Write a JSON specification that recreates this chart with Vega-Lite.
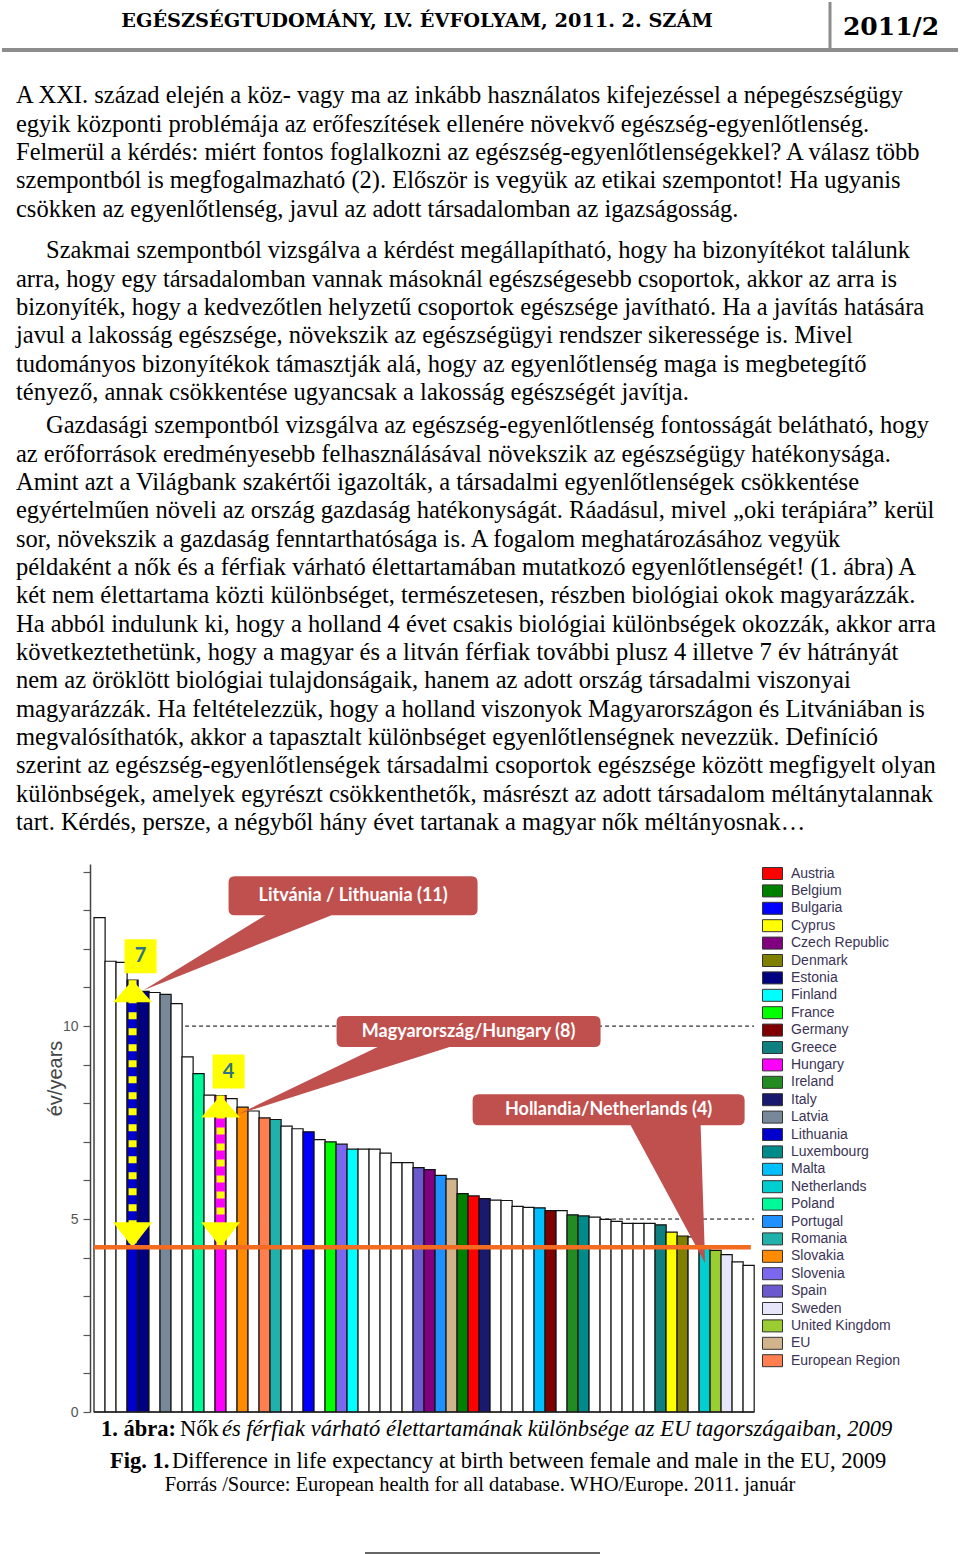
{
 "$schema": "https://vega.github.io/schema/vega-lite/v6.json",
 "background": "white",
 "padding": 0,
 "spacing": 0,
 "bounds": "flush",
 "config": {"view": {"stroke": null}, "concat": {"spacing": 0}},
 "datasets": {
  "bars": [
   {"rank": 1, "country": "Other", "value": 12.81},
   {"rank": 2, "country": "Other", "value": 11.68},
   {"rank": 3, "country": "Other", "value": 11.65},
   {"rank": 4, "country": "Lithuania", "value": 11.19},
   {"rank": 5, "country": "Estonia", "value": 10.9},
   {"rank": 6, "country": "Other", "value": 10.87},
   {"rank": 7, "country": "Latvia", "value": 10.82},
   {"rank": 8, "country": "Other", "value": 10.58},
   {"rank": 9, "country": "Other", "value": 9.2},
   {"rank": 10, "country": "Poland", "value": 8.77},
   {"rank": 11, "country": "Other", "value": 8.21},
   {"rank": 12, "country": "Hungary", "value": 8.2},
   {"rank": 13, "country": "Other", "value": 8.12},
   {"rank": 14, "country": "Slovakia", "value": 7.9},
   {"rank": 15, "country": "Other", "value": 7.8},
   {"rank": 16, "country": "European Region", "value": 7.62},
   {"rank": 17, "country": "Romania", "value": 7.58},
   {"rank": 18, "country": "Other", "value": 7.41},
   {"rank": 19, "country": "Other", "value": 7.34},
   {"rank": 20, "country": "Bulgaria", "value": 7.26},
   {"rank": 21, "country": "Other", "value": 7.06},
   {"rank": 22, "country": "France", "value": 7.0},
   {"rank": 23, "country": "Slovenia", "value": 6.94},
   {"rank": 24, "country": "Finland", "value": 6.81},
   {"rank": 25, "country": "Other", "value": 6.81},
   {"rank": 26, "country": "Other", "value": 6.81},
   {"rank": 27, "country": "Other", "value": 6.71},
   {"rank": 28, "country": "Other", "value": 6.46},
   {"rank": 29, "country": "Other", "value": 6.46},
   {"rank": 30, "country": "Spain", "value": 6.33},
   {"rank": 31, "country": "Czech Republic", "value": 6.28},
   {"rank": 32, "country": "Portugal", "value": 6.13},
   {"rank": 33, "country": "EU", "value": 6.04},
   {"rank": 34, "country": "Belgium", "value": 5.66},
   {"rank": 35, "country": "Austria", "value": 5.6},
   {"rank": 36, "country": "Italy", "value": 5.53},
   {"rank": 37, "country": "Other", "value": 5.49},
   {"rank": 38, "country": "Other", "value": 5.48},
   {"rank": 39, "country": "Other", "value": 5.33},
   {"rank": 40, "country": "Other", "value": 5.3},
   {"rank": 41, "country": "Malta", "value": 5.29},
   {"rank": 42, "country": "Germany", "value": 5.22},
   {"rank": 43, "country": "Other", "value": 5.22},
   {"rank": 44, "country": "Ireland", "value": 5.11},
   {"rank": 45, "country": "Luxembourg", "value": 5.08},
   {"rank": 46, "country": "Other", "value": 5.05},
   {"rank": 47, "country": "Other", "value": 4.99},
   {"rank": 48, "country": "Other", "value": 4.94},
   {"rank": 49, "country": "Other", "value": 4.89},
   {"rank": 50, "country": "Other", "value": 4.89},
   {"rank": 51, "country": "Other", "value": 4.89},
   {"rank": 52, "country": "Greece", "value": 4.85},
   {"rank": 53, "country": "Cyprus", "value": 4.66},
   {"rank": 54, "country": "Denmark", "value": 4.56},
   {"rank": 55, "country": "Other", "value": 4.54},
   {"rank": 56, "country": "Netherlands", "value": 4.27},
   {"rank": 57, "country": "United Kingdom", "value": 4.19},
   {"rank": 58, "country": "Sweden", "value": 4.08},
   {"rank": 59, "country": "Other", "value": 3.89},
   {"rank": 60, "country": "Other", "value": 3.8}
  ],
  "gridlines": [{"level": 5}, {"level": 10}],
  "arrows": [
   {"country": "Lithuania", "rank": 4, "top": 11.19, "base": 4.27, "diff": "7"},
   {"country": "Hungary", "rank": 12, "top": 8.2, "base": 4.27, "diff": "4"}
  ],
  "callouts": [
   {"target": "Lithuania", "rank": 4, "value": 11.19, "label": "Litvánia / Lithuania (11)"},
   {"target": "Hungary", "rank": 12, "value": 8.2, "label": "Magyarország/Hungary (8)"},
   {"target": "Netherlands", "rank": 56, "value": 4.27, "label": "Hollandia/Netherlands (4)"}
  ],
  "p1": [
   {"line": 1, "text": "A XXI. század elején a köz- vagy ma az inkább használatos kifejezéssel a népegészségügy"},
   {"line": 2, "text": "egyik központi problémája az erőfeszítések ellenére növekvő egészség-egyenlőtlenség."},
   {"line": 3, "text": "Felmerül a kérdés: miért fontos foglalkozni az egészség-egyenlőtlenségekkel? A válasz több"},
   {"line": 4, "text": "szempontból is megfogalmazható (2). Először is vegyük az etikai szempontot! Ha ugyanis"},
   {"line": 5, "text": "csökken az egyenlőtlenség, javul az adott társadalomban az igazságosság."}
  ],
  "p2": [
   {"line": 1, "text": "Szakmai szempontból vizsgálva a kérdést megállapítható, hogy ha bizonyítékot találunk"},
   {"line": 2, "text": "arra, hogy egy társadalomban vannak másoknál egészségesebb csoportok, akkor az arra is"},
   {"line": 3, "text": "bizonyíték, hogy a kedvezőtlen helyzetű csoportok egészsége javítható. Ha a javítás hatására"},
   {"line": 4, "text": "javul a lakosság egészsége, növekszik az egészségügyi rendszer sikeressége is. Mivel"},
   {"line": 5, "text": "tudományos bizonyítékok támasztják alá, hogy az egyenlőtlenség maga is megbetegítő"},
   {"line": 6, "text": "tényező, annak csökkentése ugyancsak a lakosság egészségét javítja."}
  ],
  "p3": [
   {"line": 1, "text": "Gazdasági szempontból vizsgálva az egészség-egyenlőtlenség fontosságát belátható, hogy"},
   {"line": 2, "text": "az erőforrások eredményesebb felhasználásával növekszik az egészségügy hatékonysága."},
   {"line": 3, "text": "Amint azt a Világbank szakértői igazolták, a társadalmi egyenlőtlenségek csökkentése"},
   {"line": 4, "text": "egyértelműen növeli az ország gazdaság hatékonyságát. Ráadásul, mivel „oki terápiára” kerül"},
   {"line": 5, "text": "sor, növekszik a gazdaság fenntarthatósága is. A fogalom meghatározásához vegyük"},
   {"line": 6, "text": "példaként a nők és a férfiak várható élettartamában mutatkozó egyenlőtlenségét! (1. ábra) A"},
   {"line": 7, "text": "két nem élettartama közti különbséget, természetesen, részben biológiai okok magyarázzák."},
   {"line": 8, "text": "Ha abból indulunk ki, hogy a holland 4 évet csakis biológiai különbségek okozzák, akkor arra"},
   {"line": 9, "text": "következtethetünk, hogy a magyar és a litván férfiak további plusz 4 illetve 7 év hátrányát"},
   {"line": 10, "text": "nem az öröklött biológiai tulajdonságaik, hanem az adott ország társadalmi viszonyai"},
   {"line": 11, "text": "magyarázzák. Ha feltételezzük, hogy a holland viszonyok Magyarországon és Litvániában is"},
   {"line": 12, "text": "megvalósíthatók, akkor a tapasztalt különbséget egyenlőtlenségnek nevezzük. Definíció"},
   {"line": 13, "text": "szerint az egészség-egyenlőtlenségek társadalmi csoportok egészsége között megfigyelt olyan"},
   {"line": 14, "text": "különbségek, amelyek egyrészt csökkenthetők, másrészt az adott társadalom méltánytalannak"},
   {"line": 15, "text": "tart. Kérdés, persze, a négyből hány évet tartanak a magyar nők méltányosnak…"}
  ]
 },
 "vconcat": [
  {
   "width": 960, "height": 81.83,
   "layer": [
    {"data": {"values": [{"text": "EGÉSZSÉGTUDOMÁNY, LV. ÉVFOLYAM, 2011. 2. SZÁM"}]},
     "mark": {"type": "text", "align": "center", "baseline": "middle", "font": "DejaVu Serif", "fontWeight": "bold", "fontSize": 19.3},
     "encoding": {"x": {"value": 417}, "y": {"value": 21}, "text": {"field": "text"}}},
    {"data": {"values": [{"text": "2011/2"}]},
     "mark": {"type": "text", "align": "center", "baseline": "middle", "font": "DejaVu Serif", "fontWeight": "bold", "fontSize": 25},
     "encoding": {"x": {"value": 891}, "y": {"value": 27}, "text": {"field": "text"}}},
    {"data": {"values": [{}]},
     "mark": {"type": "rule", "color": "#8c8c8c", "strokeWidth": 3},
     "encoding": {"x": {"value": 830}, "y": {"value": 2}, "y2": {"value": 48}}},
    {"data": {"values": [{}]},
     "mark": {"type": "rule", "color": "#8c8c8c", "strokeWidth": 4},
     "encoding": {"x": {"value": 2}, "x2": {"value": 958}, "y": {"value": 50}}}
   ]
  },
  {
   "width": 960, "height": 141.67,
   "data": {"name": "p1"},
   "mark": {"type": "text", "align": "left", "baseline": "middle", "font": "Liberation Serif", "fontSize": 24.5, "color": "#000"},
   "encoding": {
    "x": {"value": 16},
    "y": {"field": "line", "type": "ordinal", "scale": {"type": "point", "padding": 0.5}, "axis": null},
    "text": {"field": "text"}
   }
  },
  {"width": 960, "height": 12.33, "data": {"values": []}, "mark": "text"},
  {
   "width": 960, "height": 170,
   "data": {"name": "p2"},
   "layer": [
    {"transform": [{"filter": "datum.line == 1"}],
     "mark": {"type": "text", "align": "left", "baseline": "middle", "font": "Liberation Serif", "fontSize": 24.5, "color": "#000"},
     "encoding": {"x": {"value": 46}, "y": {"field": "line", "type": "ordinal", "scale": {"type": "point", "padding": 0.5, "domain": [1, 2, 3, 4, 5, 6]}, "axis": null}, "text": {"field": "text"}}},
    {"transform": [{"filter": "datum.line > 1"}],
     "mark": {"type": "text", "align": "left", "baseline": "middle", "font": "Liberation Serif", "fontSize": 24.5, "color": "#000"},
     "encoding": {"x": {"value": 16}, "y": {"field": "line", "type": "ordinal", "scale": {"type": "point", "padding": 0.5, "domain": [1, 2, 3, 4, 5, 6]}, "axis": null}, "text": {"field": "text"}}}
   ]
  },
  {"width": 960, "height": 5, "data": {"values": []}, "mark": "text"},
  {
   "width": 960, "height": 425,
   "data": {"name": "p3"},
   "layer": [
    {"transform": [{"filter": "datum.line == 1"}],
     "mark": {"type": "text", "align": "left", "baseline": "middle", "font": "Liberation Serif", "fontSize": 24.5, "color": "#000"},
     "encoding": {"x": {"value": 46}, "y": {"field": "line", "type": "ordinal", "scale": {"type": "point", "padding": 0.5, "domain": [1, 2, 3, 4, 5, 6, 7, 8, 9, 10, 11, 12, 13, 14, 15]}, "axis": null}, "text": {"field": "text"}}},
    {"transform": [{"filter": "datum.line > 1"}],
     "mark": {"type": "text", "align": "left", "baseline": "middle", "font": "Liberation Serif", "fontSize": 24.5, "color": "#000"},
     "encoding": {"x": {"value": 16}, "y": {"field": "line", "type": "ordinal", "scale": {"type": "point", "padding": 0.5, "domain": [1, 2, 3, 4, 5, 6, 7, 8, 9, 10, 11, 12, 13, 14, 15]}, "axis": null}, "text": {"field": "text"}}}
   ]
  },
  {"width": 960, "height": 26.17, "data": {"values": []}, "mark": "text"},
  {
   "width": 960, "height": 548,
   "layer": [
    {
     "data": {"name": "gridlines"},
     "mark": {"type": "rule", "color": "#000", "strokeWidth": 1, "strokeDash": [4, 3]},
     "encoding": {
      "x": {"datum": 0.5, "type": "quantitative", "scale": {"domain": [-7.596, 78.76], "nice": false, "zero": false}, "axis": null},
      "x2": {"datum": 60.5},
      "y": {"field": "level", "type": "quantitative", "scale": {"domain": [0, 14.2], "nice": false},
            "axis": {"title": "év/years", "offset": -90, "zindex": 1, "titleFont": "Liberation Sans", "titleFontSize": 20, "titleFontWeight": "normal", "titleColor": "#444", "titleX": -35, "titleY": 214, "titleAlign": "center", "titleBaseline": "middle", "titleAngle": 270, "values": [0, 1, 2, 3, 4, 5, 6, 7, 8, 9, 10, 11, 12, 13, 14], "tickCount": 15, "labelExpr": "datum.value % 5 === 0 ? datum.label : ''", "labelFont": "Liberation Sans", "labelFontSize": 14, "labelColor": "#555", "labelPadding": 5, "tickSize": 7, "tickColor": "#555", "tickWidth": 1.2, "domainColor": "#444", "domainWidth": 1.5, "grid": false}}
     }
    },
    {
     "data": {"name": "bars"},
     "mark": {"type": "bar", "width": 11.117, "stroke": "#111", "strokeWidth": 1.2},
     "encoding": {
      "x": {"field": "rank", "type": "quantitative", "axis": null},
      "y": {"field": "value", "type": "quantitative",
            "axis": {"title": "év/years", "offset": -90, "zindex": 1, "titleFont": "Liberation Sans", "titleFontSize": 20, "titleFontWeight": "normal", "titleColor": "#444", "titleX": -35, "titleY": 214, "titleAlign": "center", "titleBaseline": "middle", "titleAngle": 270, "values": [0, 1, 2, 3, 4, 5, 6, 7, 8, 9, 10, 11, 12, 13, 14], "tickCount": 15, "labelExpr": "datum.value % 5 === 0 ? datum.label : ''", "labelFont": "Liberation Sans", "labelFontSize": 14, "labelColor": "#555", "labelPadding": 5, "tickSize": 7, "tickColor": "#555", "tickWidth": 1.2, "domainColor": "#444", "domainWidth": 1.5, "grid": false}},
      "color": {"field": "country", "type": "nominal",
        "scale": {
         "domain": ["Austria", "Belgium", "Bulgaria", "Cyprus", "Czech Republic", "Denmark", "Estonia", "Finland", "France", "Germany", "Greece", "Hungary", "Ireland", "Italy", "Latvia", "Lithuania", "Luxembourg", "Malta", "Netherlands", "Poland", "Portugal", "Romania", "Slovakia", "Slovenia", "Spain", "Sweden", "United Kingdom", "EU", "European Region", "Other"],
         "range": ["#FF0000", "#008000", "#0000FF", "#FFFF00", "#800080", "#808000", "#000080", "#00FFFF", "#00FF00", "#800000", "#0F7F7F", "#FF00FF", "#228B22", "#191970", "#778899", "#0000CD", "#008B8B", "#00BFFF", "#00CED1", "#00FA9A", "#1E90FF", "#20B2AA", "#FF8C00", "#7B68EE", "#6A5ACD", "#E6E6FA", "#9ACD32", "#D2B48C", "#FF7F50", "#FFFFFF"]
        },
        "legend": {
         "orient": "none", "legendX": 764, "legendY": 865, "title": null, "padding": 0,
         "values": ["Austria", "Belgium", "Bulgaria", "Cyprus", "Czech Republic", "Denmark", "Estonia", "Finland", "France", "Germany", "Greece", "Hungary", "Ireland", "Italy", "Latvia", "Lithuania", "Luxembourg", "Malta", "Netherlands", "Poland", "Portugal", "Romania", "Slovakia", "Slovenia", "Spain", "Sweden", "United Kingdom", "EU", "European Region"],
         "symbolType": "M-1.25,-0.75H1.25V0.75H-1.25Z", "symbolSize": 256,
         "symbolStrokeColor": "#333", "symbolStrokeWidth": 1, "symbolOpacity": 1,
         "labelFont": "Liberation Sans", "labelFontSize": 14, "labelColor": "#3b3456", "labelOffset": 10, "labelLimit": 300,
         "rowPadding": 0.4
        }
      }
     }
    },
    {
     "data": {"name": "gridlines"},
     "transform": [{"filter": "datum.level == 5"}],
     "mark": {"type": "rule", "color": "#222", "strokeWidth": 1.5},
     "encoding": {
      "x": {"datum": 0.5, "type": "quantitative", "axis": null},
      "x2": {"datum": 60.5},
      "y": {"datum": 0, "type": "quantitative",
            "axis": {"title": "év/years", "offset": -90, "zindex": 1, "titleFont": "Liberation Sans", "titleFontSize": 20, "titleFontWeight": "normal", "titleColor": "#444", "titleX": -35, "titleY": 214, "titleAlign": "center", "titleBaseline": "middle", "titleAngle": 270, "values": [0, 1, 2, 3, 4, 5, 6, 7, 8, 9, 10, 11, 12, 13, 14], "tickCount": 15, "labelExpr": "datum.value % 5 === 0 ? datum.label : ''", "labelFont": "Liberation Sans", "labelFontSize": 14, "labelColor": "#555", "labelPadding": 5, "tickSize": 7, "tickColor": "#555", "tickWidth": 1.2, "domainColor": "#444", "domainWidth": 1.5, "grid": false}}
     }
    },
    {
     "data": {"name": "arrows"},
     "mark": {"type": "rule", "color": "#FFFF00", "strokeWidth": 8, "strokeDash": [7, 9]},
     "encoding": {
      "x": {"field": "rank", "type": "quantitative", "axis": null},
      "y": {"field": "top", "type": "quantitative",
            "axis": {"title": "év/years", "offset": -90, "zindex": 1, "titleFont": "Liberation Sans", "titleFontSize": 20, "titleFontWeight": "normal", "titleColor": "#444", "titleX": -35, "titleY": 214, "titleAlign": "center", "titleBaseline": "middle", "titleAngle": 270, "values": [0, 1, 2, 3, 4, 5, 6, 7, 8, 9, 10, 11, 12, 13, 14], "tickCount": 15, "labelExpr": "datum.value % 5 === 0 ? datum.label : ''", "labelFont": "Liberation Sans", "labelFontSize": 14, "labelColor": "#555", "labelPadding": 5, "tickSize": 7, "tickColor": "#555", "tickWidth": 1.2, "domainColor": "#444", "domainWidth": 1.5, "grid": false}},
      "y2": {"field": "base"}
     }
    },
    {
     "data": {"name": "arrows"},
     "mark": {"type": "point", "shape": "M0,0L19.5,22L-19.5,22Z", "size": 4, "filled": true, "color": "#FFFF00", "opacity": 1},
     "encoding": {"x": {"field": "rank", "type": "quantitative", "axis": null},
      "y": {"field": "top", "type": "quantitative",
            "axis": {"title": "év/years", "offset": -90, "zindex": 1, "titleFont": "Liberation Sans", "titleFontSize": 20, "titleFontWeight": "normal", "titleColor": "#444", "titleX": -35, "titleY": 214, "titleAlign": "center", "titleBaseline": "middle", "titleAngle": 270, "values": [0, 1, 2, 3, 4, 5, 6, 7, 8, 9, 10, 11, 12, 13, 14], "tickCount": 15, "labelExpr": "datum.value % 5 === 0 ? datum.label : ''", "labelFont": "Liberation Sans", "labelFontSize": 14, "labelColor": "#555", "labelPadding": 5, "tickSize": 7, "tickColor": "#555", "tickWidth": 1.2, "domainColor": "#444", "domainWidth": 1.5, "grid": false}}}
    },
    {
     "data": {"name": "arrows"},
     "mark": {"type": "point", "shape": "M0,0L19.5,-25L-19.5,-25Z", "size": 4, "filled": true, "color": "#FFFF00", "opacity": 1},
     "encoding": {"x": {"field": "rank", "type": "quantitative", "axis": null},
      "y": {"field": "base", "type": "quantitative",
            "axis": {"title": "év/years", "offset": -90, "zindex": 1, "titleFont": "Liberation Sans", "titleFontSize": 20, "titleFontWeight": "normal", "titleColor": "#444", "titleX": -35, "titleY": 214, "titleAlign": "center", "titleBaseline": "middle", "titleAngle": 270, "values": [0, 1, 2, 3, 4, 5, 6, 7, 8, 9, 10, 11, 12, 13, 14], "tickCount": 15, "labelExpr": "datum.value % 5 === 0 ? datum.label : ''", "labelFont": "Liberation Sans", "labelFontSize": 14, "labelColor": "#555", "labelPadding": 5, "tickSize": 7, "tickColor": "#555", "tickWidth": 1.2, "domainColor": "#444", "domainWidth": 1.5, "grid": false}}}
    },
    {
     "data": {"name": "arrows"},
     "mark": {"type": "point", "shape": "M-8,-41H24V-7H-8Z", "size": 4, "filled": true, "color": "#FFFF00", "opacity": 1},
     "encoding": {"x": {"field": "rank", "type": "quantitative", "axis": null},
      "y": {"field": "top", "type": "quantitative",
            "axis": {"title": "év/years", "offset": -90, "zindex": 1, "titleFont": "Liberation Sans", "titleFontSize": 20, "titleFontWeight": "normal", "titleColor": "#444", "titleX": -35, "titleY": 214, "titleAlign": "center", "titleBaseline": "middle", "titleAngle": 270, "values": [0, 1, 2, 3, 4, 5, 6, 7, 8, 9, 10, 11, 12, 13, 14], "tickCount": 15, "labelExpr": "datum.value % 5 === 0 ? datum.label : ''", "labelFont": "Liberation Sans", "labelFontSize": 14, "labelColor": "#555", "labelPadding": 5, "tickSize": 7, "tickColor": "#555", "tickWidth": 1.2, "domainColor": "#444", "domainWidth": 1.5, "grid": false}}}
    },
    {
     "data": {"name": "arrows"},
     "mark": {"type": "text", "dx": 8, "dy": -24, "align": "center", "baseline": "middle", "font": "Lato", "fontWeight": "bold", "fontSize": 20, "color": "#2E7387"},
     "encoding": {"x": {"field": "rank", "type": "quantitative", "axis": null},
      "y": {"field": "top", "type": "quantitative",
            "axis": {"title": "év/years", "offset": -90, "zindex": 1, "titleFont": "Liberation Sans", "titleFontSize": 20, "titleFontWeight": "normal", "titleColor": "#444", "titleX": -35, "titleY": 214, "titleAlign": "center", "titleBaseline": "middle", "titleAngle": 270, "values": [0, 1, 2, 3, 4, 5, 6, 7, 8, 9, 10, 11, 12, 13, 14], "tickCount": 15, "labelExpr": "datum.value % 5 === 0 ? datum.label : ''", "labelFont": "Liberation Sans", "labelFontSize": 14, "labelColor": "#555", "labelPadding": 5, "tickSize": 7, "tickColor": "#555", "tickWidth": 1.2, "domainColor": "#444", "domainWidth": 1.5, "grid": false}},
      "text": {"field": "diff"}}
    },
    {
     "data": {"name": "callouts"},
     "transform": [{"filter": "datum.target == 'Lithuania'"}],
     "layer": [
      {"mark": {"type": "point", "shape": "M102,-104H339Q345,-104,345,-98V-71Q345,-65,339,-65H199L11,10L133,-65H102Q96,-65,96,-71V-98Q96,-104,102,-104Z", "size": 4, "filled": true, "color": "#C0504D", "opacity": 1},
       "encoding": {"x": {"field": "rank", "type": "quantitative", "axis": null},
        "y": {"field": "value", "type": "quantitative",
              "axis": {"title": "év/years", "offset": -90, "zindex": 1, "titleFont": "Liberation Sans", "titleFontSize": 20, "titleFontWeight": "normal", "titleColor": "#444", "titleX": -35, "titleY": 214, "titleAlign": "center", "titleBaseline": "middle", "titleAngle": 270, "values": [0, 1, 2, 3, 4, 5, 6, 7, 8, 9, 10, 11, 12, 13, 14], "tickCount": 15, "labelExpr": "datum.value % 5 === 0 ? datum.label : ''", "labelFont": "Liberation Sans", "labelFontSize": 14, "labelColor": "#555", "labelPadding": 5, "tickSize": 7, "tickColor": "#555", "tickWidth": 1.2, "domainColor": "#444", "domainWidth": 1.5, "grid": false}}}},
      {"mark": {"type": "text", "dx": 220.6, "dy": -84.6, "align": "center", "baseline": "middle", "font": "Lato", "fontWeight": "bold", "fontSize": 18, "color": "#FFFFFF"},
       "encoding": {"x": {"field": "rank", "type": "quantitative", "axis": null},
        "y": {"field": "value", "type": "quantitative",
              "axis": {"title": "év/years", "offset": -90, "zindex": 1, "titleFont": "Liberation Sans", "titleFontSize": 20, "titleFontWeight": "normal", "titleColor": "#444", "titleX": -35, "titleY": 214, "titleAlign": "center", "titleBaseline": "middle", "titleAngle": 270, "values": [0, 1, 2, 3, 4, 5, 6, 7, 8, 9, 10, 11, 12, 13, 14], "tickCount": 15, "labelExpr": "datum.value % 5 === 0 ? datum.label : ''", "labelFont": "Liberation Sans", "labelFontSize": 14, "labelColor": "#555", "labelPadding": 5, "tickSize": 7, "tickColor": "#555", "tickWidth": 1.2, "domainColor": "#444", "domainWidth": 1.5, "grid": false}},
        "text": {"field": "label"}}}
     ]
    },
    {
     "data": {"name": "callouts"},
     "transform": [{"filter": "datum.target == 'Hungary'"}],
     "layer": [
      {"mark": {"type": "point", "shape": "M122,-79.5H374Q380,-79.5,380,-73.5V-54.5Q380,-48.5,374,-48.5H229L18,18.5L157,-48.5H122Q116,-48.5,116,-54.5V-73.5Q116,-79.5,122,-79.5Z", "size": 4, "filled": true, "color": "#C0504D", "opacity": 1},
       "encoding": {"x": {"field": "rank", "type": "quantitative", "axis": null},
        "y": {"field": "value", "type": "quantitative",
              "axis": {"title": "év/years", "offset": -90, "zindex": 1, "titleFont": "Liberation Sans", "titleFontSize": 20, "titleFontWeight": "normal", "titleColor": "#444", "titleX": -35, "titleY": 214, "titleAlign": "center", "titleBaseline": "middle", "titleAngle": 270, "values": [0, 1, 2, 3, 4, 5, 6, 7, 8, 9, 10, 11, 12, 13, 14], "tickCount": 15, "labelExpr": "datum.value % 5 === 0 ? datum.label : ''", "labelFont": "Liberation Sans", "labelFontSize": 14, "labelColor": "#555", "labelPadding": 5, "tickSize": 7, "tickColor": "#555", "tickWidth": 1.2, "domainColor": "#444", "domainWidth": 1.5, "grid": false}}}},
      {"mark": {"type": "text", "dx": 248, "dy": -64, "align": "center", "baseline": "middle", "font": "Lato", "fontWeight": "bold", "fontSize": 18, "color": "#FFFFFF"},
       "encoding": {"x": {"field": "rank", "type": "quantitative", "axis": null},
        "y": {"field": "value", "type": "quantitative",
              "axis": {"title": "év/years", "offset": -90, "zindex": 1, "titleFont": "Liberation Sans", "titleFontSize": 20, "titleFontWeight": "normal", "titleColor": "#444", "titleX": -35, "titleY": 214, "titleAlign": "center", "titleBaseline": "middle", "titleAngle": 270, "values": [0, 1, 2, 3, 4, 5, 6, 7, 8, 9, 10, 11, 12, 13, 14], "tickCount": 15, "labelExpr": "datum.value % 5 === 0 ? datum.label : ''", "labelFont": "Liberation Sans", "labelFontSize": 14, "labelColor": "#555", "labelPadding": 5, "tickSize": 7, "tickColor": "#555", "tickWidth": 1.2, "domainColor": "#444", "domainWidth": 1.5, "grid": false}},
        "text": {"field": "label"}}}
     ]
    },
    {
     "data": {"name": "callouts"},
     "transform": [{"filter": "datum.target == 'Netherlands'"}],
     "layer": [
      {"mark": {"type": "point", "shape": "M-226,-153H34Q40,-153,40,-147V-128Q40,-122,34,-122H-4L0.5,16L-74,-122H-226Q-232,-122,-232,-128V-147Q-232,-153,-226,-153Z", "size": 4, "filled": true, "color": "#C0504D", "opacity": 1},
       "encoding": {"x": {"field": "rank", "type": "quantitative", "axis": null},
        "y": {"field": "value", "type": "quantitative",
              "axis": {"title": "év/years", "offset": -90, "zindex": 1, "titleFont": "Liberation Sans", "titleFontSize": 20, "titleFontWeight": "normal", "titleColor": "#444", "titleX": -35, "titleY": 214, "titleAlign": "center", "titleBaseline": "middle", "titleAngle": 270, "values": [0, 1, 2, 3, 4, 5, 6, 7, 8, 9, 10, 11, 12, 13, 14], "tickCount": 15, "labelExpr": "datum.value % 5 === 0 ? datum.label : ''", "labelFont": "Liberation Sans", "labelFontSize": 14, "labelColor": "#555", "labelPadding": 5, "tickSize": 7, "tickColor": "#555", "tickWidth": 1.2, "domainColor": "#444", "domainWidth": 1.5, "grid": false}}}},
      {"mark": {"type": "text", "dx": -96, "dy": -137.5, "align": "center", "baseline": "middle", "font": "Lato", "fontWeight": "bold", "fontSize": 18, "color": "#FFFFFF"},
       "encoding": {"x": {"field": "rank", "type": "quantitative", "axis": null},
        "y": {"field": "value", "type": "quantitative",
              "axis": {"title": "év/years", "offset": -90, "zindex": 1, "titleFont": "Liberation Sans", "titleFontSize": 20, "titleFontWeight": "normal", "titleColor": "#444", "titleX": -35, "titleY": 214, "titleAlign": "center", "titleBaseline": "middle", "titleAngle": 270, "values": [0, 1, 2, 3, 4, 5, 6, 7, 8, 9, 10, 11, 12, 13, 14], "tickCount": 15, "labelExpr": "datum.value % 5 === 0 ? datum.label : ''", "labelFont": "Liberation Sans", "labelFontSize": 14, "labelColor": "#555", "labelPadding": 5, "tickSize": 7, "tickColor": "#555", "tickWidth": 1.2, "domainColor": "#444", "domainWidth": 1.5, "grid": false}},
        "text": {"field": "label"}}}
     ]
    },
    {
     "data": {"name": "bars"},
     "transform": [{"filter": "datum.country == 'Netherlands'"}],
     "mark": {"type": "rule", "color": "#F26B21", "strokeWidth": 4.5},
     "encoding": {
      "x": {"datum": 0.5, "type": "quantitative", "axis": null},
      "x2": {"datum": 60.2},
      "y": {"field": "value", "type": "quantitative",
            "axis": {"title": "év/years", "offset": -90, "zindex": 1, "titleFont": "Liberation Sans", "titleFontSize": 20, "titleFontWeight": "normal", "titleColor": "#444", "titleX": -35, "titleY": 214, "titleAlign": "center", "titleBaseline": "middle", "titleAngle": 270, "values": [0, 1, 2, 3, 4, 5, 6, 7, 8, 9, 10, 11, 12, 13, 14], "tickCount": 15, "labelExpr": "datum.value % 5 === 0 ? datum.label : ''", "labelFont": "Liberation Sans", "labelFontSize": 14, "labelColor": "#555", "labelPadding": 5, "tickSize": 7, "tickColor": "#555", "tickWidth": 1.2, "domainColor": "#444", "domainWidth": 1.5, "grid": false}}
     }
    }
   ]
  },
  {
   "width": 960, "height": 144,
   "layer": [
    {"data": {"values": [{"t": "1. ábra:"}]},
     "mark": {"type": "text", "align": "left", "baseline": "middle", "font": "Liberation Serif", "fontSize": 22.5, "fontWeight": "bold"},
     "encoding": {"x": {"value": 101}, "y": {"value": 17}, "text": {"field": "t"}}},
    {"data": {"values": [{"t": "Nők"}]},
     "mark": {"type": "text", "align": "left", "baseline": "middle", "font": "Liberation Serif", "fontSize": 22.5},
     "encoding": {"x": {"value": 180}, "y": {"value": 17}, "text": {"field": "t"}}},
    {"data": {"values": [{"t": "és férfiak várható élettartamának különbsége az EU tagországaiban, 2009"}]},
     "mark": {"type": "text", "align": "left", "baseline": "middle", "font": "Liberation Serif", "fontSize": 22.5, "fontStyle": "italic"},
     "encoding": {"x": {"value": 222}, "y": {"value": 17}, "text": {"field": "t"}}},
    {"data": {"values": [{"t": "Fig. 1."}]},
     "mark": {"type": "text", "align": "left", "baseline": "middle", "font": "Liberation Serif", "fontSize": 22.5, "fontWeight": "bold"},
     "encoding": {"x": {"value": 110}, "y": {"value": 49}, "text": {"field": "t"}}},
    {"data": {"values": [{"t": "Difference in life expectancy at birth between female and male in the EU, 2009"}]},
     "mark": {"type": "text", "align": "left", "baseline": "middle", "font": "Liberation Serif", "fontSize": 22.5},
     "encoding": {"x": {"value": 172}, "y": {"value": 49}, "text": {"field": "t"}}},
    {"data": {"values": [{"t": "Forrás /Source: European health for all database. WHO/Europe. 2011. január"}]},
     "mark": {"type": "text", "align": "center", "baseline": "middle", "font": "Liberation Serif", "fontSize": 20.5},
     "encoding": {"x": {"value": 480}, "y": {"value": 73}, "text": {"field": "t"}}},
    {"data": {"values": [{}]},
     "mark": {"type": "rule", "color": "#333", "strokeWidth": 1.5},
     "encoding": {"x": {"value": 365}, "x2": {"value": 600}, "y": {"value": 141}}}
   ]
  }
 ]
}
